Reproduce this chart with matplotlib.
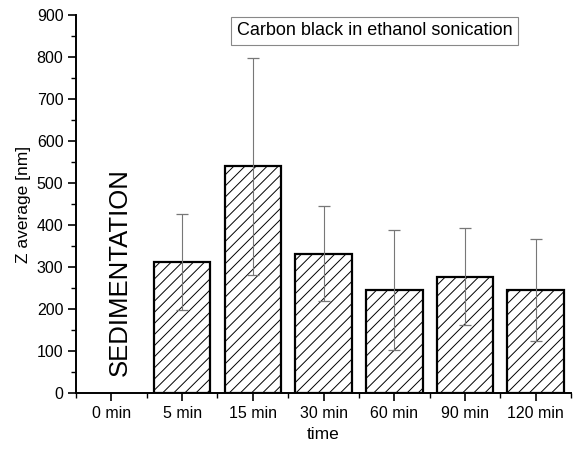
import numpy as np
import matplotlib
matplotlib.use("Agg")
import matplotlib.pyplot as plt
from matplotlib.ticker import MultipleLocator

plt.rcParams['font.family'] = ['Liberation Sans', 'DejaVu Sans']
plt.rcParams['hatch.color'] = '#555555'
plt.rcParams['hatch.linewidth'] = 0.7

# data
labels = ['0 min', '5 min', '15 min', '30 min', '60 min', '90 min', '120 min']
z_avg = [0, 312, 540, 332, 245, 277, 246]
z_err = [0, 115, 258, 113, 142, 115, 121]

fig = plt.figure(figsize=(5.77, 4.49), dpi=100)
ax = fig.add_axes([0.1317, 0.1247, 0.858, 0.842])

x = np.arange(len(labels))
# 0 min has no measured bar (sedimentation)
ax.bar(x[1:], z_avg[1:], width=0.8, color='white', edgecolor='black',
       linewidth=1.6, hatch='///', zorder=2)
ax.errorbar(x[1:], z_avg[1:], yerr=z_err[1:], fmt='none', ecolor='#777777',
            elinewidth=0.8, capsize=4, capthick=0.9, zorder=3)

ax.set_xlim(-0.5, 6.5)
ax.set_ylim(0, 900)
ax.set_xticks(x)
ax.set_xticklabels(labels)
ax.xaxis.set_minor_locator(MultipleLocator(1, offset=0.5))
ax.yaxis.set_major_locator(MultipleLocator(100))
ax.yaxis.set_minor_locator(MultipleLocator(50))

for s in ['top', 'right']:
    ax.spines[s].set_visible(False)
for s in ['left', 'bottom']:
    ax.spines[s].set_linewidth(1.4)

ax.tick_params(which='major', direction='out', length=6, width=1.2, labelsize=11.5)
ax.tick_params(which='minor', direction='out', length=3.5, width=1.0)
ax.tick_params(axis='x', which='major', pad=3)
ax.tick_params(axis='y', which='major', pad=3)

ax.set_ylabel('Z average [nm]', fontsize=12.5, labelpad=4)
ax.set_xlabel('time', fontsize=12.5, labelpad=5)

ax.text(0.12, 288, 'SEDIMENTATION', rotation=90, fontsize=18.5,
        ha='center', va='center')

ax.text(3.72, 862, 'Carbon black in ethanol sonication', fontsize=13,
        ha='center', va='center',
        bbox=dict(boxstyle='square,pad=0.3', facecolor='white',
                  edgecolor='#888888', linewidth=0.8))

fig.savefig('out.png', dpi=100)
